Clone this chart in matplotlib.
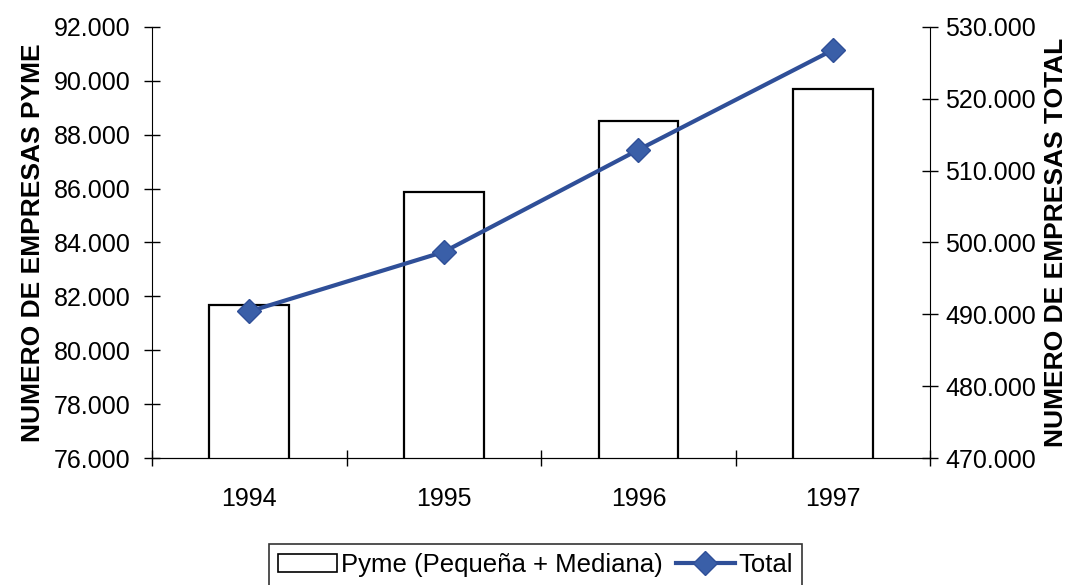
import matplotlib.pyplot as plt
import numpy as np
from matplotlib.patches import Patch
from matplotlib.lines import Line2D

plt.rcParams['font.family'] = ['Liberation Sans', 'DejaVu Sans']

years = ['1994', '1995', '1996', '1997']
pyme = [81680, 85880, 88520, 89690]
total = [490400, 498700, 512900, 526800]

pyme_ticks = [76000, 78000, 80000, 82000, 84000, 86000, 88000, 90000, 92000]
total_ticks = [470000, 480000, 490000, 500000, 510000, 520000, 530000]


def fmt(v):
    return f'{v:,.0f}'.replace(',', '.')


fig = plt.figure(figsize=(10.78, 5.85), dpi=100)
ax = fig.add_axes([0.141, 0.217, 0.722, 0.737])
x = np.arange(len(years))

ax.bar(x, pyme, width=0.41, bottom=0, color='white', edgecolor='black', linewidth=1.6, zorder=2)
ax.set_ylim(76000, 92000)
ax.set_xlim(-0.5, len(years) - 0.5)
ax.set_yticks(pyme_ticks)
ax.set_yticklabels([fmt(v) for v in pyme_ticks], fontsize=18)
ax.set_xticks(x)
ax.set_xticklabels(years, fontsize=18)
ax.tick_params(axis='x', which='major', length=0, pad=21)
ax.set_xticks(np.arange(-0.5, len(years)), minor=True)
ax.tick_params(axis='x', which='minor', direction='inout', length=11, width=1)
ax.tick_params(axis='y', direction='inout', length=11, width=1, pad=10)
ax.set_ylabel('NUMERO DE EMPRESAS PYME', fontsize=19, fontweight='bold', labelpad=6)
ax.spines['top'].set_visible(False)
ax.spines['right'].set_visible(False)

ax2 = ax.twinx()
ax2.plot(x, total, color='#2f4f98', linewidth=3, marker='D', markersize=12,
         markerfacecolor='#3a5fa8', markeredgecolor='#2f4f98', zorder=3)
ax2.set_ylim(470000, 530000)
ax2.set_yticks(total_ticks)
ax2.set_yticklabels([fmt(v) for v in total_ticks], fontsize=18)
ax2.tick_params(axis='y', direction='inout', length=11, width=1, pad=5)
ax2.set_ylabel('NUMERO DE EMPRESAS TOTAL', fontsize=19, fontweight='bold', labelpad=6)
ax2.spines['top'].set_visible(False)
ax2.spines['left'].set_visible(False)

handles = [
    Patch(facecolor='white', edgecolor='black', linewidth=1.2, label='Pyme (Pequeña + Mediana)'),
    Line2D([0], [0], color='#2f4f98', linewidth=3, marker='D', markersize=12,
           markerfacecolor='#3a5fa8', markeredgecolor='#2f4f98', label='Total'),
]
leg = fig.legend(handles=handles, loc='upper center', bbox_to_anchor=(0.497, 0.092), ncol=2,
                 fontsize=18.5, frameon=True, fancybox=False, edgecolor='black',
                 handlelength=2.3, handletextpad=0.15, columnspacing=0.5, borderpad=0.35)
leg.get_frame().set_linewidth(1.2)

fig.savefig('out.png', dpi=100)
